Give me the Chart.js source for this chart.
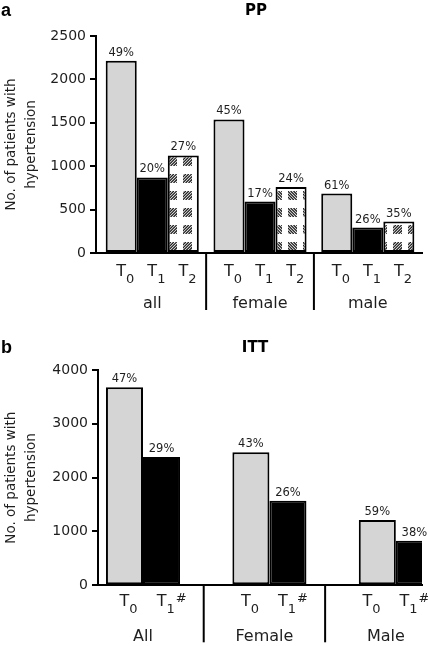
<!DOCTYPE html>
<html>
<head>
<meta charset="utf-8">
<script src="https://cdn.jsdelivr.net/npm/chart.js@4.4.1/dist/chart.umd.min.js"></script>
<style>
  html, body { margin: 0; padding: 0; background: #fff; width: 428px; height: 646px; overflow: hidden; }
  .box { position: absolute; left: 0; width: 428px; }
  #boxA { top: 0; height: 318px; }
  #boxB { top: 318px; height: 328px; }
</style>
</head>
<body>
<div class="box" id="boxA"><canvas id="chartA"></canvas></div>
<div class="box" id="boxB"><canvas id="chartB"></canvas></div>
<script>
// ---------- DATA ----------
const groupsPP = ['all', 'female', 'male'];
const ppT0 = [2215, 1539, 685];
const ppT1 = [870, 593, 293];
const ppT2 = [1124, 761, 362];
const ppPctT0 = [49, 45, 61];
const ppPctT1 = [20, 17, 26];
const ppPctT2 = [27, 24, 35];
const ppTimeSubs = ['0', '1', '2'];
const ppYTicks = [0, 500, 1000, 1500, 2000, 2500];

const groupsITT = ['All', 'Female', 'Male'];
const ittT0 = [3678, 2471, 1213];
const ittT1 = [2384, 1572, 829];
const ittPctT0 = [47, 43, 59];
const ittPctT1 = [29, 26, 38];
const ittTimeSubs = ['0', '1'];
const ittTimeSups = ['', '#'];
const ittYTicks = [0, 1000, 2000, 3000, 4000];

const yTitle = ['No. of patients with', 'hypertension'];

// ---------- STYLE ----------
const FONT = "'DejaVu Sans', 'Liberation Sans', Arial, sans-serif";
const TXT = '#1e1e1e';
const GRAY = '#d5d5d5';
const BLACK = '#000000';

function hatch(dir) {
  const c = document.createElement('canvas');
  c.width = 15; c.height = 17;
  const g = c.getContext('2d');
  g.fillStyle = '#fff';
  g.fillRect(0, 0, 15, 17);
  g.save();
  g.beginPath(); g.rect(3, 4, 9, 9); g.clip();
  g.strokeStyle = '#222';
  g.lineWidth = 1.3;
  g.beginPath();
  for (let t = -9; t < 18; t += 2.9) {
    if (dir === '/') { g.moveTo(3 + t, 13); g.lineTo(3 + t + 9, 4); }
    else { g.moveTo(3 + t, 4); g.lineTo(3 + t + 9, 13); }
  }
  g.stroke();
  g.restore();
  return g.createPattern(c, 'repeat');
}

const toPts = arr => arr.map((v, i) => ({ x: i, y: v }));

const annot = {
  id: 'annot',
  afterDatasetsDraw(chart, args, o) {
    const ctx = chart.ctx;
    const xs = chart.scales.x;
    const bottom = chart.chartArea.bottom;
    const shift = v => (o.shift || 0) * v;
    ctx.save();
    chart.data.datasets.forEach((ds, di) => {
      const meta = chart.getDatasetMeta(di);
      meta.data.forEach((bar, i) => {
        ctx.font = '11.5px ' + FONT;
        ctx.fillStyle = TXT;
        ctx.textAlign = 'center';
        ctx.textBaseline = 'alphabetic';
        ctx.fillText(o.pct[di][i] + '%', bar.x, bar.y - 5);
        ctx.font = '16px ' + FONT;
        const tw = ctx.measureText('T').width;
        const by = bottom + o.tY;
        const lx = bar.x + shift(i);
        ctx.fillText('T', lx, by);
        ctx.font = '13px ' + FONT;
        ctx.textAlign = 'left';
        ctx.fillText(o.subs[di], lx + tw / 2, by + 7);
        if (o.sups && o.sups[di]) {
          const sw = ctx.measureText(o.subs[di]).width;
          ctx.fillText(o.sups[di], lx + tw / 2 + sw + 1, by - 4);
        }
      });
    });
    // group labels
    ctx.font = '16px ' + FONT;
    ctx.textAlign = 'center';
    ctx.fillStyle = TXT;
    o.groups.forEach((g, i) => {
      ctx.fillText(g, xs.getPixelForValue(i) + shift(i), bottom + o.gY);
    });
    // group separators
    ctx.strokeStyle = BLACK;
    ctx.lineWidth = 2;
    for (let k = 0; k < o.groups.length - 1; k++) {
      const px = xs.getPixelForValue(k + 0.5) + shift(k + 0.5);
      ctx.beginPath();
      ctx.moveTo(px, bottom);
      ctx.lineTo(px, bottom + o.sepLen);
      ctx.stroke();
    }
    ctx.fillStyle = '#000';
    ctx.textBaseline = 'middle';
    ctx.textAlign = 'left';
    ctx.font = "bold 18px 'Liberation Sans', Arial, sans-serif";
    ctx.fillText(o.letter, 1, o.letterY);
    ctx.textAlign = 'center';
    ctx.font = 'bold 15px ' + FONT;
    ctx.fillText(o.title, o.titleX, o.titleY);
    ctx.restore();
  }
};

function yScale(max, ticksArr, width) {
  return {
    min: 0, max: max,
    afterBuildTicks: s => { s.ticks = ticksArr.map(v => ({ value: v })); s.min = 0; s.max = max; },
    ticks: { callback: v => String(v), font: { family: FONT, size: 14 }, color: TXT, padding: 4 },
    grid: { drawOnChartArea: false, drawTicks: true, tickLength: 6, color: BLACK, lineWidth: 2 },
    border: { display: true, color: BLACK, width: 2 },
    title: { display: true, text: yTitle, color: TXT, font: { family: FONT, size: 13.5, lineHeight: 1.45 }, padding: { top: 2, bottom: 0 } },
    afterFit: s => { s.width = width; }
  };
}

function xScale(groups, min, max, height) {
  return {
    type: 'linear', min: min, max: max, offset: false, bounds: 'data',
    afterBuildTicks: s => { s.ticks = groups.map((g, i) => ({ value: i })); s.min = min; s.max = max; },
    ticks: { display: false },
    grid: { drawOnChartArea: false, drawTicks: false, offset: false },
    border: { display: true, color: BLACK, width: 2 },
    afterFit: s => { s.height = height; }
  };
}

const common = {
  responsive: true, maintainAspectRatio: false, animation: false, devicePixelRatio: 1,
  plugins: { legend: { display: false }, tooltip: { enabled: false }, title: { display: false } }
};

// ---------- CHART A (PP) ----------
new Chart(document.getElementById('chartA'), {
  type: 'bar',
  data: {
    datasets: [
      { data: toPts(ppT0), backgroundColor: GRAY },
      { data: toPts(ppT1), backgroundColor: BLACK },
      { data: toPts(ppT2), backgroundColor: [hatch('/'), hatch('\\'), hatch('/')] }
    ]
  },
  options: Object.assign({}, common, {
    layout: { padding: { top: 36, left: 0, right: 6, bottom: 0 } },
    datasets: { bar: { borderColor: BLACK, borderWidth: 2, borderSkipped: false, barPercentage: 1, categoryPercentage: 0.864, clip: { left: 10, top: 10, right: 0, bottom: 10 } } },
    scales: { x: xScale(groupsPP, -0.522, 2.503, 65), y: yScale(2500, ppYTicks, 96) },
    plugins: Object.assign({}, common.plugins, {
      annot: { groups: groupsPP, pct: [ppPctT0, ppPctT1, ppPctT2], subs: ppTimeSubs, shift: 0, tY: 23, gY: 55, sepLen: 57, letter: 'a', letterY: 11, title: 'PP', titleX: 256, titleY: 11 }
    })
  }),
  plugins: [annot]
});

// ---------- CHART B (ITT) ----------
new Chart(document.getElementById('chartB'), {
  type: 'bar',
  data: {
    datasets: [
      { data: toPts(ittT0), backgroundColor: GRAY },
      { data: toPts(ittT1), backgroundColor: BLACK }
    ]
  },
  options: Object.assign({}, common, {
    layout: { padding: { top: 52, left: 0, right: 6, bottom: 0 } },
    datasets: { bar: { borderColor: BLACK, borderWidth: 2, borderSkipped: false, barPercentage: 1, categoryPercentage: 0.586, clip: { left: 10, top: 10, right: 0, bottom: 10 } } },
    scales: { x: xScale(groupsITT, -0.356, 2.207, 60.7), y: yScale(4000, ittYTicks, 98) },
    plugins: Object.assign({}, common.plugins, {
      annot: { groups: groupsITT, pct: [ittPctT0, ittPctT1], subs: ittTimeSubs, sups: ittTimeSups, shift: -5, tY: 21, gY: 56, sepLen: 57, letter: 'b', letterY: 30, title: 'ITT', titleX: 255, titleY: 30 }
    })
  }),
  plugins: [annot]
});
</script>
</body>
</html>
